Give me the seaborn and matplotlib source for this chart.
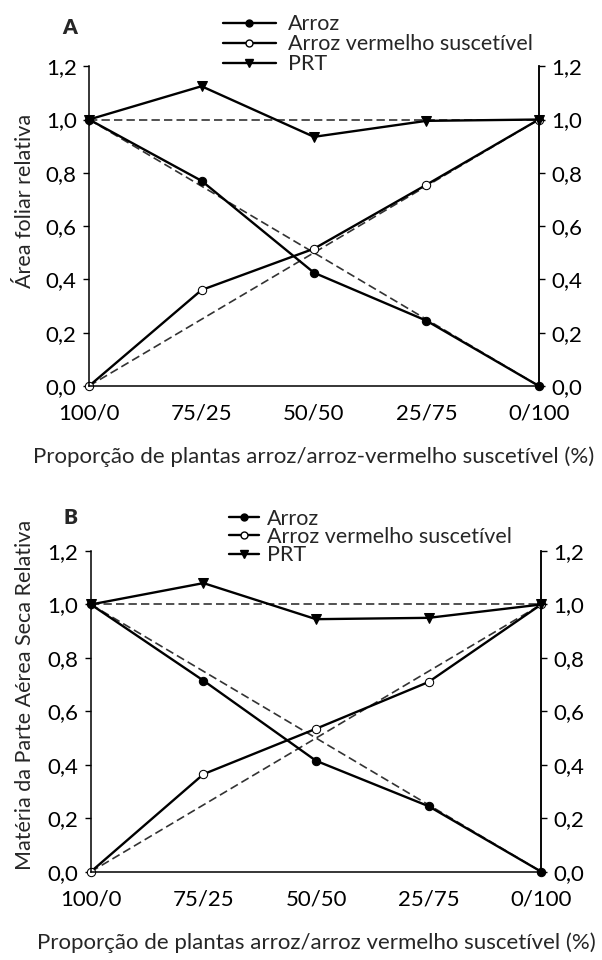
import numpy as np
import pandas as pd
import seaborn as sns
import matplotlib.pyplot as plt
from matplotlib.lines import Line2D

sns.set_style('white')
plt.rcParams['font.family'] = ['Lato', 'DejaVu Sans']

props = ['100/0', '75/25', '50/50', '25/75', '0/100']

# painel A - area foliar
arroz_a = [1.0, 0.77, 0.425, 0.245, 0.0]
vermelho_a = [0.0, 0.36, 0.515, 0.755, 1.0]
prt_a = [1.0, 1.125, 0.935, 0.995, 1.0]

# painel B - materia seca
arroz_b = [1.0, 0.715, 0.415, 0.245, 0.0]
vermelho_b = [0.0, 0.365, 0.535, 0.71, 1.0]
prt_b = [1.0, 1.08, 0.945, 0.95, 1.0]

# linhas esperadas (sem competicao)
esp_arroz = [1.0, 0.75, 0.5, 0.25, 0.0]
esp_vermelho = [0.0, 0.25, 0.5, 0.75, 1.0]
esp_prt = [1.0, 1.0, 1.0, 1.0, 1.0]

fig = plt.figure(figsize=(6.02, 9.60), dpi=100)
ax_a = fig.add_axes([0.148, 0.598, 0.747, 0.333])
ax_b = fig.add_axes([0.151, 0.092, 0.748, 0.334])


def draw(ax, arroz, vermelho, prt, ylabel, xlabel, letter, ylab_pos,
         leg_pos, handle_len, text_pad, spacing, letter_y):
    df = pd.DataFrame({'x': np.arange(len(props)), 'arroz': arroz,
                       'vermelho': vermelho, 'prt': prt,
                       'e1': esp_arroz, 'e2': esp_vermelho, 'e3': esp_prt})
    for col in ['e1', 'e2', 'e3']:
        sns.lineplot(data=df, x='x', y=col, ax=ax, color='#333333',
                     linestyle=(0, (5, 2.5)), linewidth=1.2, clip_on=False)
    sns.lineplot(data=df, x='x', y='arroz', ax=ax, color='black', lw=1.7,
                 marker='o', markersize=6, markerfacecolor='black',
                 markeredgecolor='black', clip_on=False)
    sns.lineplot(data=df, x='x', y='vermelho', ax=ax, color='black', lw=1.7,
                 marker='o', markersize=6, markerfacecolor='white',
                 markeredgecolor='black', clip_on=False)
    sns.lineplot(data=df, x='x', y='prt', ax=ax, color='black', lw=1.7,
                 marker='v', markersize=7, markerfacecolor='black',
                 markeredgecolor='black', clip_on=False)

    ax.set_xlim(0, 4)
    ax.set_ylim(0, 1.2)
    ticks = np.arange(0, 1.21, 0.2)
    labels = [f'{t:.1f}'.replace('.', ',') for t in ticks]
    ax.set_yticks(ticks)
    ax.set_yticklabels(labels)
    ax.set_xticks(range(len(props)))
    ax.set_xticklabels(props)
    ax.tick_params(axis='both', direction='out', length=4, width=1,
                   colors='black', labelsize=16, pad=5)
    ax.tick_params(axis='x', pad=9)
    for s in ['left', 'right', 'bottom']:
        ax.spines[s].set_visible(True)
        ax.spines[s].set_color('black')
        ax.spines[s].set_linewidth(1.1)
    ax.spines['top'].set_visible(False)
    ax.set_ylabel(ylabel, fontsize=15.5)
    ax.yaxis.set_label_coords(*ylab_pos)
    ax.set_xlabel(xlabel, fontsize=16, labelpad=16)

    ax2 = ax.twinx()
    ax2.set_ylim(0, 1.2)
    ax2.set_yticks(ticks)
    ax2.set_yticklabels(labels)
    ax2.tick_params(axis='y', direction='out', length=4, width=1,
                    colors='black', labelsize=16, pad=5)
    for s in ['left', 'top', 'bottom']:
        ax2.spines[s].set_visible(False)
    ax2.spines['right'].set_color('black')
    ax2.spines['right'].set_linewidth(1.1)

    handles = [
        Line2D([], [], color='black', lw=1.7, marker='o', ms=5,
               mfc='black', mec='black'),
        Line2D([], [], color='black', lw=1.7, marker='o', ms=5,
               mfc='white', mec='black'),
        Line2D([], [], color='black', lw=1.7, marker='v', ms=6,
               mfc='black', mec='black'),
    ]
    ax.legend(handles, ['Arroz', 'Arroz vermelho suscetível', 'PRT'],
              loc='lower left', bbox_to_anchor=leg_pos, frameon=False,
              fontsize=15.5, handlelength=handle_len, handletextpad=text_pad,
              labelspacing=spacing, borderaxespad=0, borderpad=0)
    ax.text(-0.06, letter_y, letter, transform=ax.transAxes, fontsize=15,
            fontweight='heavy', va='center')


draw(ax_a, arroz_a, vermelho_a, prt_a, 'Área foliar relativa',
     'Proporção de plantas arroz/arroz-vermelho suscetível (%)', 'A',
     (-0.12, 0.58), (0.298, 0.975), 2.45, 0.55, 0.0, 1.12)
draw(ax_b, arroz_b, vermelho_b, prt_b, 'Matéria da Parte Aérea Seca Relativa',
     'Proporção de plantas arroz/arroz vermelho suscetível (%)', 'B',
     (-0.124, 0.55), (0.307, 0.956), 1.4, 0.37, -0.08, 1.105)

fig.savefig('out.png', dpi=100)
